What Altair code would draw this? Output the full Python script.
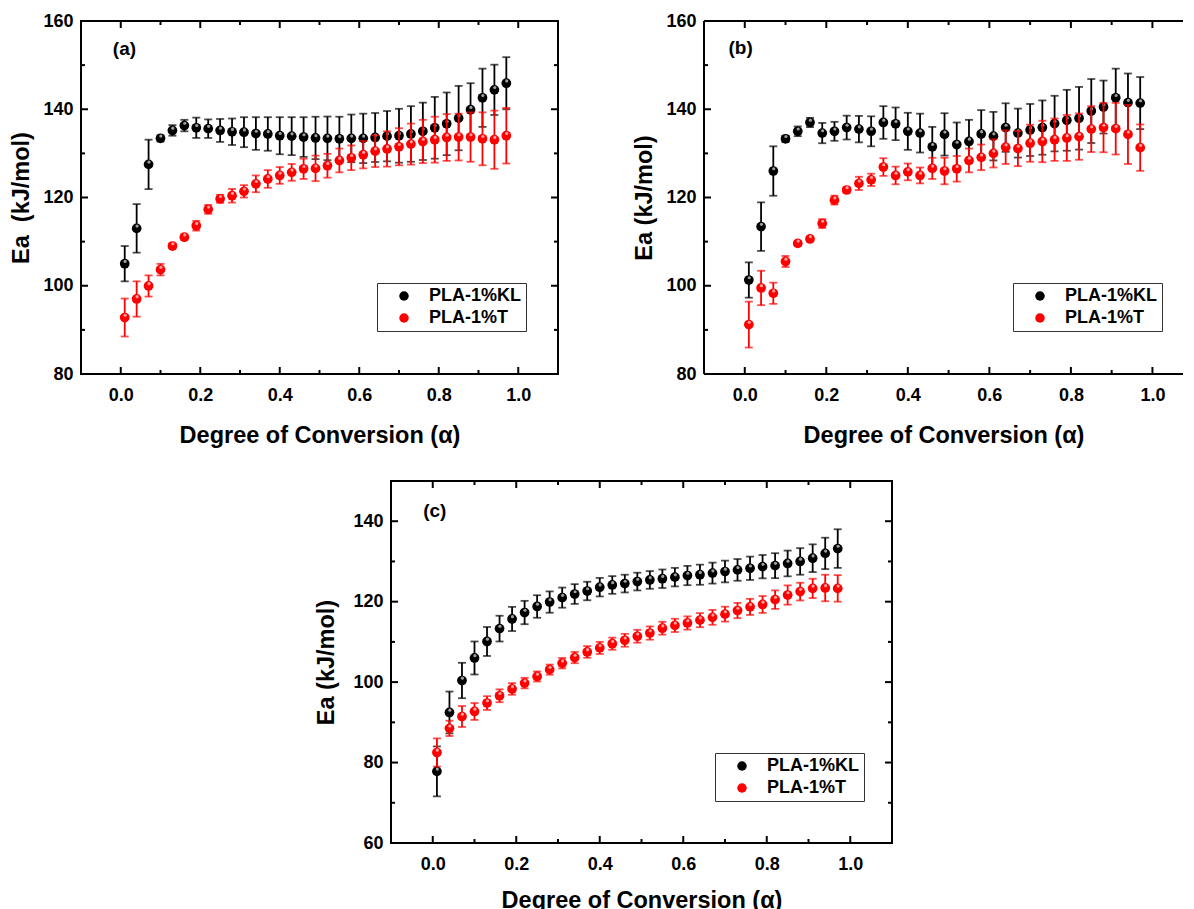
import altair as alt
import pandas as pd

FONT = "Liberation Sans"

ALPHA = [0.01, 0.04, 0.07, 0.10, 0.13, 0.16, 0.19, 0.22, 0.25, 0.28, 0.31,
         0.34, 0.37, 0.40, 0.43, 0.46, 0.49, 0.52, 0.55, 0.58, 0.61, 0.64,
         0.67, 0.70, 0.73, 0.76, 0.79, 0.82, 0.85, 0.88, 0.91, 0.94, 0.97]

# Panel (a)
A_KL = [105.0, 113.0, 127.5, 133.4, 135.2, 136.3, 135.8, 135.6, 135.2, 134.9, 134.8,
        134.5, 134.4, 134.0, 133.9, 133.7, 133.5, 133.4, 133.3, 133.4, 133.4, 133.6,
        133.9, 134.0, 134.4, 135.0, 135.8, 136.7, 138.0, 139.9, 142.6, 144.4, 145.9]
A_KL_ERR = [4.0, 5.5, 5.6, 0.7, 1.2, 1.3, 2.3, 2.1, 2.6, 3.0, 3.4,
            3.7, 3.8, 4.2, 4.3, 4.5, 4.8, 4.95, 5.0, 5.4, 5.6, 5.55,
            5.7, 6.1, 6.3, 6.5, 7.0, 7.1, 7.3, 6.0, 6.6, 5.7, 5.9]
A_T = [92.8, 97.0, 99.95, 103.65, 109.0, 111.0, 113.6, 117.3, 119.7, 120.4, 121.4,
       123.1, 124.2, 125.0, 125.7, 126.5, 126.6, 127.2, 128.4, 129.0, 129.7, 130.5,
       131.0, 131.5, 132.1, 132.7, 133.1, 133.6, 133.7, 133.7, 133.3, 133.1, 134.0]
A_T_ERR = [4.3, 4.0, 2.4, 1.3, 0.5, 0.6, 1.1, 1.0, 0.9, 1.55, 1.4,
           1.9, 2.0, 1.9, 1.9, 2.3, 2.9, 2.7, 2.7, 2.8, 3.1, 3.6,
           4.0, 4.2, 4.65, 4.9, 5.2, 5.3, 5.3, 5.6, 6.0, 6.6, 6.3]

# Panel (b)
B_KL = [101.3, 113.4, 126.0, 133.3, 135.0, 137.0, 134.6, 135.0, 135.85, 135.5, 135.0,
        137.0, 136.7, 135.0, 134.6, 131.5, 134.3, 132.0, 132.7, 134.4, 133.9, 135.85,
        134.6, 135.3, 135.85, 136.75, 137.5, 137.96, 139.6, 140.5, 142.6, 141.5, 141.4]
B_KL_ERR = [4.0, 5.5, 5.6, 0.7, 1.1, 1.05, 2.3, 2.15, 2.7, 3.0, 3.4,
            3.7, 3.7, 4.2, 4.4, 4.5, 4.8, 5.0, 4.9, 5.4, 5.5, 5.5,
            5.55, 5.9, 6.15, 6.3, 6.9, 7.1, 7.25, 6.0, 6.6, 6.6, 5.9]
B_T = [91.2, 99.5, 98.3, 105.5, 109.6, 110.6, 114.1, 119.4, 121.7, 123.2, 124.0,
       126.9, 125.0, 125.8, 125.0, 126.6, 126.0, 126.5, 128.4, 129.1, 130.0, 131.4,
       131.1, 132.3, 132.7, 133.1, 133.5, 133.8, 135.5, 135.85, 135.6, 134.3, 131.3]
B_T_ERR = [5.2, 3.9, 2.4, 1.25, 0.5, 0.5, 1.0, 1.0, 0.6, 1.5, 1.4,
           2.0, 2.0, 1.9, 1.8, 2.4, 3.0, 2.9, 2.7, 2.9, 3.2, 3.8,
           4.0, 4.2, 4.7, 4.8, 5.2, 5.25, 5.2, 5.6, 5.85, 6.7, 5.25]

# Panel (c)
C_KL = [77.8, 92.45, 100.4, 106.0, 110.1, 113.3, 115.7, 117.3, 118.8, 119.9, 121.0,
        121.9, 122.65, 123.6, 124.15, 124.5, 125.0, 125.4, 125.7, 126.1, 126.5, 126.7,
        127.1, 127.5, 127.9, 128.3, 128.7, 128.95, 129.5, 130.0, 130.8, 132.0, 133.2]
C_KL_ERR = [6.2, 5.2, 4.4, 4.1, 3.6, 3.2, 3.0, 2.9, 2.8, 2.65, 2.5,
            2.45, 2.3, 2.3, 2.2, 2.2, 2.2, 2.2, 2.3, 2.3, 2.4, 2.5,
            2.6, 2.7, 2.7, 2.9, 2.9, 3.1, 3.2, 3.3, 3.45, 3.9, 4.8]
C_T = [82.5, 88.5, 91.45, 92.7, 94.8, 96.6, 98.3, 99.75, 101.4, 103.1, 104.7,
       106.1, 107.5, 108.5, 109.55, 110.4, 111.4, 112.2, 113.4, 114.1, 114.7, 115.4,
       116.1, 116.9, 117.8, 118.7, 119.3, 120.5, 121.65, 122.5, 123.3, 123.4, 123.3]
C_T_ERR = [3.5, 1.9, 2.6, 2.1, 1.7, 1.6, 1.45, 1.3, 1.25, 1.25, 1.3,
           1.4, 1.45, 1.5, 1.5, 1.6, 1.6, 1.65, 1.6, 1.65, 1.65, 1.75,
           1.85, 1.85, 1.9, 2.0, 2.1, 2.3, 2.4, 2.2, 2.4, 3.3, 3.3]

SERIES = ["PLA-1%KL", "PLA-1%T"]
COLORS = ["#000000", "#ff0000"]
HILITE = ["#b0b0b0", "#ffb0b0"]

X_TICKS = [0.0, 0.2, 0.4, 0.6, 0.8, 1.0]
X_MINOR = [0.1, 0.3, 0.5, 0.7, 0.9]
X_TITLE = "Degree of Conversion (\u03b1)"

AB_Y_TICKS = [80, 100, 120, 140, 160]
AB_Y_MINOR = [90, 110, 130, 150]
C_Y_TICKS = [60, 80, 100, 120, 140]
C_Y_MINOR = [70, 90, 110, 130]


def panel(kl, kl_err, t, t_err, xmax, ydom, ymaj, ymin_, w, h, tag, tag_pos,
          leg_pos, ytitle, ytitle_pad, xtitle_pad, frame=False):
    xs = alt.Scale(domain=[-0.1, xmax], nice=False, zero=False)
    ys = alt.Scale(domain=ydom, nice=False, zero=False)
    axis_style = dict(
        domain=False, ticks=False, grid=False,
        labelFont=FONT, labelFontSize=18, labelFontWeight="bold", labelColor="black",
        titleFont=FONT, titleFontSize=23.5, titleFontWeight="bold", titleColor="black",
    )
    xax = alt.Axis(values=X_TICKS, format=".1f", title=X_TITLE,
                   labelPadding=12, titlePadding=xtitle_pad, **axis_style)
    yax = alt.Axis(values=ymaj, format="d", title=ytitle,
                   labelPadding=8, titlePadding=ytitle_pad, **axis_style)

    def X(f):
        return alt.X(f, type="quantitative", scale=xs, axis=xax)

    def Y(f):
        return alt.Y(f, type="quantitative", scale=ys, axis=yax)

    legend = alt.Legend(
        title=None, orient="none", legendX=leg_pos[0], legendY=leg_pos[1],
        direction="vertical", strokeColor="#333333", fillColor="white",
        padding=4, symbolOffset=14, labelOffset=16, labelFont=FONT,
        labelFontSize=18, labelFontWeight="bold", labelColor="black",
        symbolSize=90, symbolType="circle", symbolStrokeWidth=0, rowPadding=4,
    )
    color = alt.Color("series:N", scale=alt.Scale(domain=SERIES, range=COLORS),
                      legend=legend)

    layers = []
    rule = dict(color="black", strokeWidth=2)
    one = pd.DataFrame({"k": [0]})
    if frame:
        # explicit frame: left, bottom and top spines (right side is cut off)
        layers.append(alt.Chart(one).mark_rule(**rule).encode(
            x=alt.value(0), y=alt.value(0), y2=alt.value(h)))
        layers.append(alt.Chart(one).mark_rule(**rule).encode(
            x=alt.value(0), x2=alt.value(w), y=alt.value(h)))
        layers.append(alt.Chart(one).mark_rule(**rule).encode(
            x=alt.value(0), x2=alt.value(w), y=alt.value(0)))

    # inward tick marks
    ymaj_df = pd.DataFrame({"v": ymaj})
    ymin_df = pd.DataFrame({"v": ymin_})
    xmaj_df = pd.DataFrame({"v": X_TICKS})
    xmin_df = pd.DataFrame({"v": X_MINOR})
    layers.append(alt.Chart(ymaj_df).mark_rule(**rule).encode(
        y=Y("v"), x=alt.value(0), x2=alt.value(7)))
    layers.append(alt.Chart(ymin_df).mark_rule(**rule).encode(
        y=Y("v"), x=alt.value(0), x2=alt.value(4)))
    if not frame:
        layers.append(alt.Chart(ymaj_df).mark_rule(**rule).encode(
            y=Y("v"), x=alt.value(w), x2=alt.value(w - 7)))
        layers.append(alt.Chart(ymin_df).mark_rule(**rule).encode(
            y=Y("v"), x=alt.value(w), x2=alt.value(w - 4)))
    layers.append(alt.Chart(xmaj_df).mark_rule(**rule).encode(
        x=X("v"), y=alt.value(h), y2=alt.value(h - 7)))
    layers.append(alt.Chart(xmin_df).mark_rule(**rule).encode(
        x=X("v"), y=alt.value(h), y2=alt.value(h - 4)))
    layers.append(alt.Chart(xmaj_df).mark_rule(**rule).encode(
        x=X("v"), y=alt.value(0), y2=alt.value(7)))
    layers.append(alt.Chart(xmin_df).mark_rule(**rule).encode(
        x=X("v"), y=alt.value(0), y2=alt.value(4)))

    for name, vals, errs, col, hl in [
        (SERIES[0], kl, kl_err, COLORS[0], HILITE[0]),
        (SERIES[1], t, t_err, COLORS[1], HILITE[1]),
    ]:
        df = pd.DataFrame({
            "alpha": ALPHA,
            "Ea": vals,
            "lo": [v - e for v, e in zip(vals, errs)],
            "hi": [v + e for v, e in zip(vals, errs)],
            "series": name,
        })
        base = alt.Chart(df)
        layers.append(base.mark_rule(color=col, strokeWidth=1.8).encode(
            x=X("alpha"), y=Y("lo"), y2="hi"))
        layers.append(base.mark_tick(color=col, orient="horizontal", size=8,
                                     thickness=1.8).encode(x=X("alpha"), y=Y("lo")))
        layers.append(base.mark_tick(color=col, orient="horizontal", size=8,
                                     thickness=1.8).encode(x=X("alpha"), y=Y("hi")))
        layers.append(base.mark_circle(size=95, opacity=1).encode(
            x=X("alpha"), y=Y("Ea"), color=color))
        layers.append(base.mark_circle(size=10, opacity=0.9, color=hl,
                                       yOffset=-2.3, xOffset=0.4).encode(
            x=X("alpha"), y=Y("Ea")))

    tag_df = pd.DataFrame({"x": [tag_pos[0]], "y": [tag_pos[1]], "t": [tag]})
    layers.append(alt.Chart(tag_df).mark_text(
        align="left", baseline="middle", font=FONT, fontSize=19,
        fontWeight="bold", color="black").encode(x=X("x"), y=Y("y"), text="t:N"))

    ch = alt.layer(*layers).properties(width=w, height=h)
    if frame:
        ch = ch.properties(view=alt.ViewBackground(strokeOpacity=0))
    return ch


pa = panel(A_KL, A_KL_ERR, A_T, A_T_ERR, 1.1, [80, 160], AB_Y_TICKS, AB_Y_MINOR,
           477, 353, "(a)", (-0.02, 153.6), (296, 262), "Ea\u00a0 (kJ/mol)", 9, 19)
pb = panel(B_KL, B_KL_ERR, B_T, B_T_ERR, 1.075, [80, 160], AB_Y_TICKS, AB_Y_MINOR,
           479, 353, "(b)", (-0.04, 153.8), (309, 262), "Ea (kJ/mol)", 9, 19,
           frame=True)
pc = panel(C_KL, C_KL_ERR, C_T, C_T_ERR, 1.1, [60, 150], C_Y_TICKS, C_Y_MINOR,
           501, 362, "(c)", (-0.023, 142.5), (324, 272), "Ea (kJ/mol)", 14, 15)

# empty spacer to shift panel (c) to the right
spacer = alt.Chart(pd.DataFrame({"k": [0]})).mark_point(opacity=0).encode(
    x=alt.value(0), y=alt.value(0)
).properties(width=232, height=10, view=alt.ViewBackground(strokeOpacity=0))

top = alt.hconcat(pa, pb, spacing=72).resolve_scale(
    color="independent").resolve_legend(color="independent")
bottom = alt.hconcat(spacer, pc, spacing=0).resolve_scale(
    color="independent").resolve_legend(color="independent")

chart = alt.vconcat(top, bottom, spacing=30).resolve_scale(
    color="independent").resolve_legend(color="independent").properties(
    padding={"left": 0, "top": 3, "right": 0, "bottom": 0},
    background="white",
).configure_view(stroke="black", strokeWidth=2)

chart.save("out.html", embed_options={"renderer": "svg", "actions": False})
